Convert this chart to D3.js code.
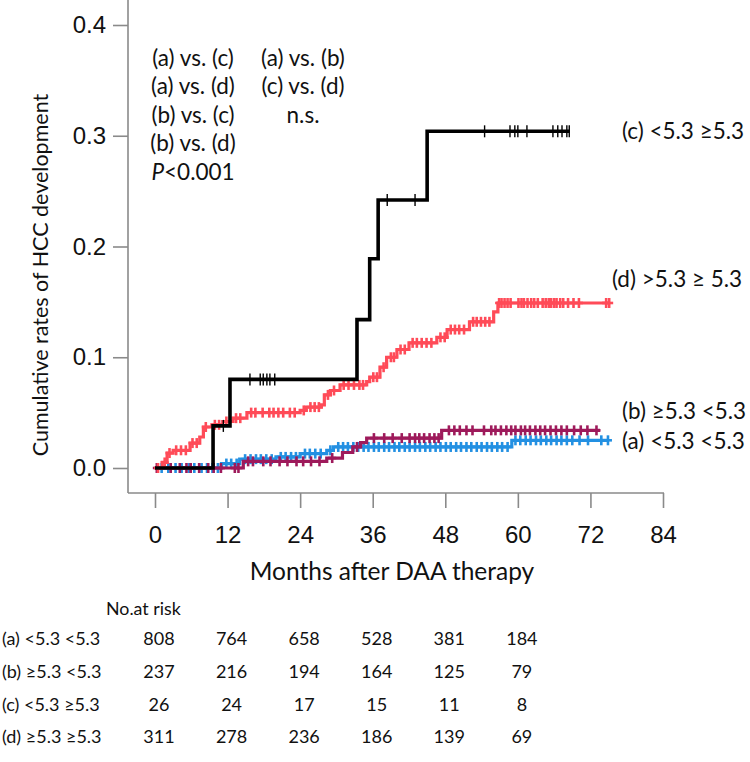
<!DOCTYPE html>
<html><head><meta charset="utf-8">
<script src="https://cdn.jsdelivr.net/npm/d3@7"></script>
<style>body{margin:0;background:#fff}svg{display:block}</style>
</head><body>
<script>
// ---- data ----
const monthTicks = [0, 12, 24, 36, 48, 60, 72, 84];
const rateTicks = [0.0, 0.1, 0.2, 0.3, 0.4];

// (c) <5.3 >=5.3  (black)
const cTimes = [0, 9.6, 12.4, 33.4, 35.5, 36.9, 45.0, 68.6];
const cRates = [0, 0.038, 0.080, 0.134, 0.189, 0.242, 0.304, 0.304];
const cCensor = [11.3, 15.7, 17.4, 17.9, 18.5, 19.0, 19.8, 38.4, 43.0, 54.5, 58.7, 59.5, 60.0, 61.5, 65.8, 66.6, 67.3, 68.1, 68.5];

// (d) >=5.3 >=5.3 (red)
const dTimes = [0, 1.2, 2.0, 3.0, 5.8, 7.4, 8.0, 9.4, 11.2, 12.9, 15.2, 24.0, 25.0, 27.5, 28.0, 29.0, 30.6, 35.0, 35.5, 37.2, 38.3, 40.0, 42.0, 46.6, 48.3, 52.0, 56.0, 56.7, 75.2];
const dRates = [0, 0.005, 0.0135, 0.016, 0.0225, 0.028, 0.037, 0.039, 0.042, 0.045, 0.050, 0.052, 0.055, 0.057, 0.066, 0.070, 0.075, 0.078, 0.082, 0.091, 0.100, 0.107, 0.113, 0.118, 0.125, 0.132, 0.141, 0.149, 0.149];
const dCensor = [0.5, 1.6, 2.4, 3.5, 4.3, 5.1, 6.2, 6.9, 8.4, 9.9, 10.6, 11.8, 13.4, 14.1, 15.9, 16.6, 17.8, 18.9, 19.6, 20.4, 21.2, 22.3, 23.1, 24.6, 25.7, 26.4, 27.1, 28.6, 29.6, 31.2, 32.0, 32.9, 33.8, 34.4, 36.1, 36.7, 37.8, 39.0, 39.5, 40.6, 41.3, 42.6, 43.3, 44.1, 44.9, 45.7, 47.2, 47.9, 48.9, 49.6, 50.3, 51.1, 52.6, 53.2, 53.9, 54.6, 55.3, 56.9, 57.3, 57.8, 58.3, 58.8, 60.1, 60.6, 61.0, 61.6, 62.2, 62.7, 63.3, 64.1, 64.6, 65.1, 65.5, 66.0, 66.4, 67.0, 67.5, 68.3, 69.2, 70.1, 74.6, 75.1];

// (b) >=5.3 <5.3 (maroon)
const bTimes = [0, 14.6, 28.4, 31.0, 32.7, 34.0, 35.0, 47.4, 73.6];
const bRates = [0, 0.006, 0.009, 0.014, 0.019, 0.023, 0.027, 0.034, 0.034];
const bCensor = [0.3, 2.6, 4.1, 5.2, 5.9, 7.3, 8.8, 9.7, 10.9, 13.2, 13.8, 15.4, 16.2, 17.9, 19.1, 20.6, 21.9, 23.4, 24.5, 25.8, 27.2, 29.3, 33.4, 36.2, 37.9, 39.3, 40.8, 42.1, 43.0, 43.7, 44.5, 45.4, 46.2, 46.9, 48.6, 49.5, 50.4, 51.5, 52.5, 54.4, 55.6, 56.3, 57.2, 58.1, 58.9, 59.6, 60.5, 61.2, 62.0, 62.9, 63.7, 64.5, 65.4, 66.3, 67.2, 68.1, 69.3, 70.4, 71.5, 73.0];

// (a) <5.3 <5.3 (blue)
const aTimes = [0, 11.0, 14.0, 20.0, 24.0, 28.4, 29.5, 59.0, 75.0];
const aRates = [0, 0.004, 0.008, 0.010, 0.013, 0.016, 0.019, 0.025, 0.025];
const aCensor = [1.1, 2.2, 3.4, 4.4, 5.6, 6.5, 7.7, 8.6, 9.5, 10.4, 11.8, 12.6, 13.5, 14.9, 15.8, 16.7, 17.5, 18.4, 19.3, 20.8, 21.6, 22.5, 23.3, 24.8, 25.6, 26.5, 27.4, 29.0, 30.3, 31.1, 31.9, 32.8, 33.6, 34.5, 35.3, 36.2, 37.0, 37.9, 38.7, 39.6, 40.4, 41.3, 42.1, 43.0, 43.8, 44.7, 45.5, 46.4, 47.2, 48.1, 48.9, 49.8, 50.6, 51.5, 52.3, 53.2, 54.0, 54.9, 55.7, 56.6, 57.4, 58.3, 59.6, 60.4, 61.3, 62.1, 63.0, 63.8, 64.7, 65.5, 66.4, 67.2, 68.1, 69.0, 70.2, 71.6, 73.8, 74.9];

const groupLabels = ["(a) <5.3 <5.3", "(b) \u22655.3 <5.3", "(c) <5.3 \u22655.3", "(d) \u22655.3 \u22655.3"];
const riskTimes = [0, 12, 24, 36, 48, 60];
const riskA = [808, 764, 658, 528, 381, 184];
const riskB = [237, 216, 194, 164, 125, 79];
const riskC = [26, 24, 17, 15, 11, 8];
const riskD = [311, 278, 236, 186, 139, 69];

const compareLeft = ["(a) vs. (c)", "(a) vs. (d)", "(b) vs. (c)", "(b) vs. (d)"];
const compareRight = ["(a) vs. (b)", "(c) vs. (d)", "n.s."];

// ---- drawing ----
const W = 750, H = 762;
const svg = d3.select("body").append("svg").attr("width", W).attr("height", H);
const x = d3.scaleLinear().domain([0, 84]).range([155, 663]);
const y = d3.scaleLinear().domain([0, 0.4]).range([468, 25]);
const axisGray = "#8a8a8a";
const numFont = "'Liberation Sans', Arial, sans-serif";
const txtFont = "Lato, 'Open Sans', sans-serif";

// axes
const yAxis = svg.append("g").attr("transform", "translate(128,0)")
  .call(d3.axisLeft(y).tickValues(rateTicks).tickFormat(d3.format(".1f")).tickSize(15).tickPadding(7));
const xAxis = svg.append("g").attr("transform", "translate(0,493)")
  .call(d3.axisBottom(x).tickValues(monthTicks).tickFormat(d3.format("d")).tickSize(15).tickPadding(18));
[yAxis, xAxis].forEach(g => {
  g.select(".domain").remove();
  g.selectAll(".tick line").attr("stroke", axisGray).attr("stroke-width", 1.6);
  g.selectAll(".tick text").attr("fill", "#111").style("font-family", numFont).style("font-size", "24px");
});
svg.append("line").attr("x1", 128).attr("x2", 128).attr("y1", 0).attr("y2", 493)
  .attr("stroke", axisGray).attr("stroke-width", 1.6);
svg.append("line").attr("x1", 128).attr("x2", x(84) + 1).attr("y1", 493).attr("y2", 493)
  .attr("stroke", axisGray).attr("stroke-width", 1.6);

// axis titles
svg.append("text").attr("transform", "translate(40,275) rotate(-90)")
  .attr("text-anchor", "middle").attr("dominant-baseline", "central")
  .style("font-family", txtFont).style("font-size", "21.5px").attr("fill", "#111")
  .text("Cumulative rates of HCC development");
svg.append("text").attr("x", 392).attr("y", 570)
  .attr("text-anchor", "middle").attr("dominant-baseline", "central")
  .style("font-family", txtFont).style("font-size", "24.5px").attr("fill", "#111")
  .text("Months after DAA therapy");

// curves
function stepValue(times, rates, t) {
  let v = rates[0];
  for (let i = 0; i < times.length; i++) if (times[i] <= t) v = rates[i];
  return v;
}
const line = d3.line().x(d => x(d[0])).y(d => y(d[1])).curve(d3.curveStepAfter);
const series = [
  {times: aTimes, rates: aRates, censor: aCensor, color: "#2390e2", w: 3.2, tick: 5, tw: 2.6, plus: true},
  {times: bTimes, rates: bRates, censor: bCensor, color: "#9e1a5b", w: 3.2, tick: 5, tw: 2.6, plus: true},
  {times: dTimes, rates: dRates, censor: dCensor, color: "#ff4b58", w: 3.2, tick: 5, tw: 2.6, plus: true},
  {times: cTimes, rates: cRates, censor: cCensor, color: "#000000", w: 3.6, tick: 6, tw: 1.4, plus: false}
];
series.forEach(s => {
  const pts = s.times.map((t, i) => [t, s.rates[i]]);
  svg.append("path").datum(pts).attr("d", line).attr("fill", "none")
    .attr("stroke", s.color).attr("stroke-width", s.w).attr("stroke-linejoin", "miter");
  const g = svg.append("g");
  s.censor.forEach(t => {
    const cx = x(t), cy = y(stepValue(s.times, s.rates, t));
    g.append("line").attr("x1", cx).attr("x2", cx).attr("y1", cy - s.tick).attr("y2", cy + s.tick)
      .attr("stroke", s.color).attr("stroke-width", s.tw);
    if (s.plus) g.append("line").attr("x1", cx - 4).attr("x2", cx + 4).attr("y1", cy).attr("y2", cy)
      .attr("stroke", s.color).attr("stroke-width", 2.6);
  });
});

// legend labels at curve ends
const legendEntries = ["(c) <5.3 \u22655.3", "(d) >5.3 \u2265 5.3", "(b) \u22655.3 <5.3", "(a) <5.3 <5.3"];
const legendY = [130, 278, 410, 440];
const legendX = [622, 612, 622, 622];
legendEntries.forEach((e, i) => {
  const t = svg.append("text").attr("x", legendX[i]).attr("y", legendY[i]).attr("dominant-baseline", "central")
    .style("font-family", txtFont).style("font-size", "22.5px").attr("fill", "#111").text(e);
  const maxW = W - 4 - legendX[i];
  if (t.node().getComputedTextLength() > maxW) t.attr("textLength", maxW).attr("lengthAdjust", "spacingAndGlyphs");
});

// comparisons
const cmpSize = "22.5px";
compareLeft.forEach((t, i) => {
  svg.append("text").attr("x", 193).attr("y", 57 + i * 28.5).attr("text-anchor", "middle")
    .attr("dominant-baseline", "central").style("font-family", txtFont).style("font-size", cmpSize)
    .attr("fill", "#111").text(t);
});
compareRight.forEach((t, i) => {
  svg.append("text").attr("x", 303).attr("y", 57 + i * 28.5).attr("text-anchor", "middle")
    .attr("dominant-baseline", "central").style("font-family", txtFont).style("font-size", cmpSize)
    .attr("fill", "#111").text(t);
});
const pt = svg.append("text").attr("x", 193).attr("y", 57 + 4 * 28.5).attr("text-anchor", "middle")
  .attr("dominant-baseline", "central").style("font-family", txtFont).style("font-size", cmpSize).attr("fill", "#111");
pt.append("tspan").style("font-style", "italic").text("P");
pt.append("tspan").text("<0.001");

// risk table
svg.append("text").attr("x", 106).attr("y", 608).attr("dominant-baseline", "central")
  .style("font-family", txtFont).style("font-size", "17.8px").attr("fill", "#111").text("No.at risk");
const riskRows = [riskA, riskB, riskC, riskD];
const rowY = [638, 670.5, 703.5, 736];
riskRows.forEach((row, r) => {
  svg.append("text").attr("x", 2).attr("y", rowY[r]).attr("dominant-baseline", "central")
    .style("font-family", txtFont).style("font-size", "18px").attr("fill", "#111").text(groupLabels[r]);
  row.forEach((v, j) => {
    svg.append("text").attr("x", x(riskTimes[j]) + 4).attr("y", rowY[r]).attr("text-anchor", "middle")
      .attr("dominant-baseline", "central").style("font-family", txtFont).style("font-size", "18px")
      .attr("fill", "#111").text(v);
  });
});
</script>
</body></html>
